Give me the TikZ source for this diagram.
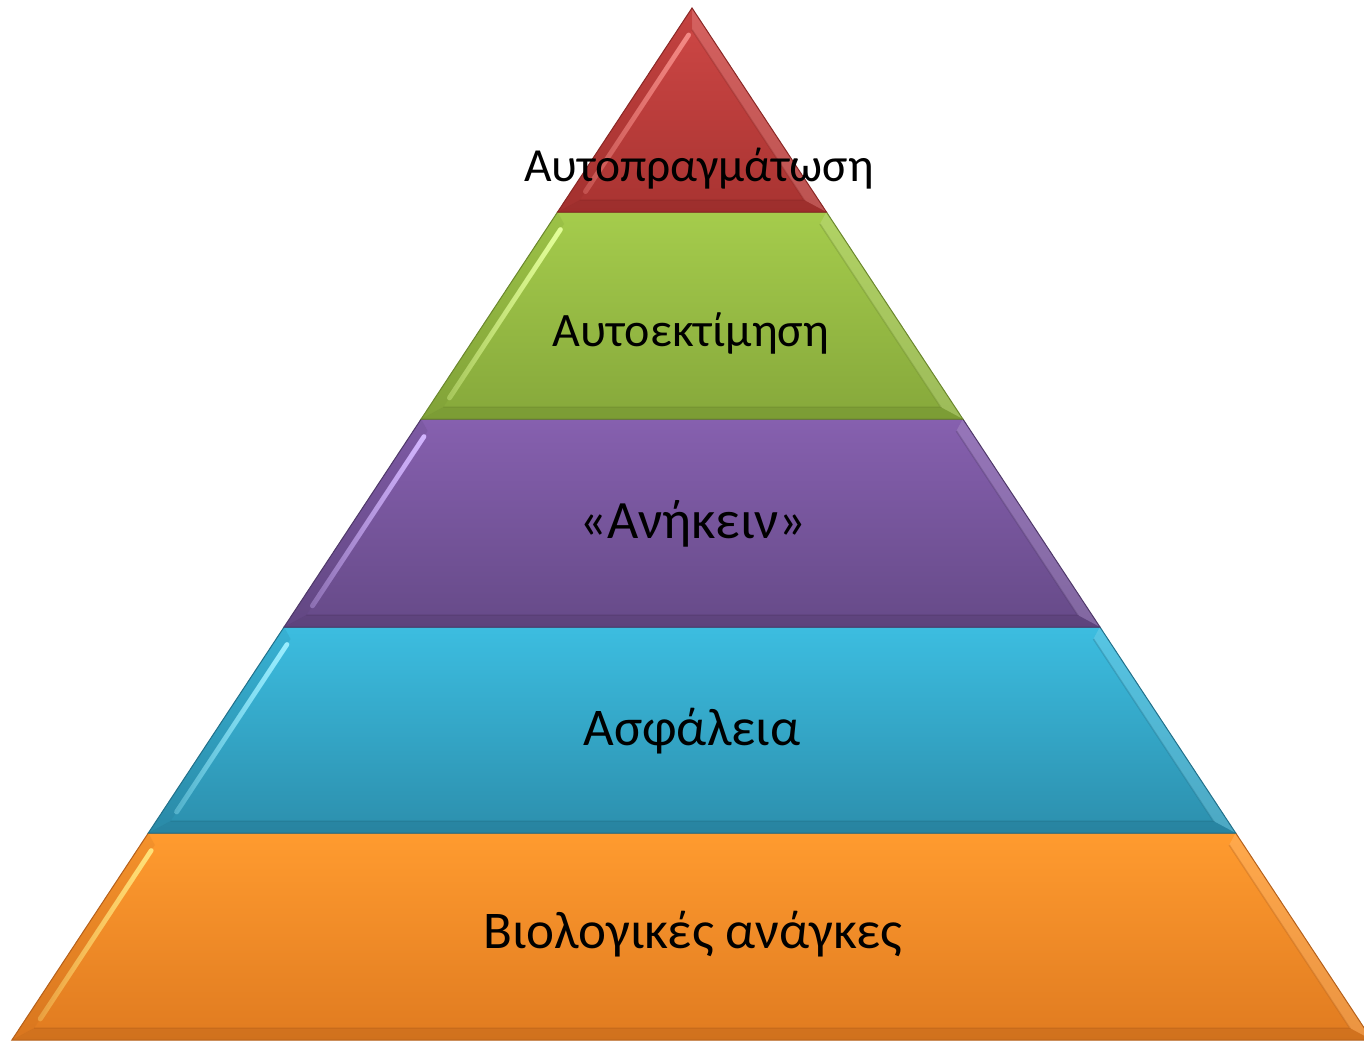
\documentclass[tikz,border=0pt]{standalone}
\usepackage{fontspec}
\setmainfont{Carlito}
\usetikzlibrary{calc,fadings}
\definecolor{redT}{HTML}{CF4846}
\definecolor{redB}{HTML}{A83331}
\definecolor{redH}{HTML}{F48A85}
\definecolor{redD}{HTML}{8A2725}
\definecolor{grnT}{HTML}{A5CC4C}
\definecolor{grnB}{HTML}{86A83B}
\definecolor{grnH}{HTML}{E4FF9A}
\definecolor{grnD}{HTML}{6A872C}
\definecolor{purT}{HTML}{8660AF}
\definecolor{purB}{HTML}{664A88}
\definecolor{purH}{HTML}{D3B6FF}
\definecolor{purD}{HTML}{4F3869}
\definecolor{bluT}{HTML}{3CBDE0}
\definecolor{bluB}{HTML}{2C8FAD}
\definecolor{bluH}{HTML}{9BEEFF}
\definecolor{bluD}{HTML}{21708A}
\definecolor{orgT}{HTML}{FF9B2F}
\definecolor{orgB}{HTML}{E07B20}
\definecolor{orgH}{HTML}{FFE27A}
\definecolor{orgD}{HTML}{B5601A}
\newcommand\pyrlayer[6]{%
  \pgfmathsetmacro\pyT{#1}%
  \pgfmathsetmacro\pyB{#2}%
  \pgfmathsetmacro\pwT{0.659*(\pyT-8)}%
  \pgfmathsetmacro\pwB{0.659*(\pyB-8)}%
  \pgfmathsetmacro\piyT{max(\pyT+12,29.85)}%
  \pgfmathsetmacro\piyB{\pyB-12}%
  \pgfmathsetmacro\piwT{max(0.659*(\piyT-8)-14.4,0)}%
  \pgfmathsetmacro\piwB{0.659*(\piyB-8)-14.4}%
  \coordinate (TL) at (692-\pwT,\pyT);
  \coordinate (TR) at (692+\pwT,\pyT);
  \coordinate (BR) at (692+\pwB,\pyB);
  \coordinate (BL) at (692-\pwB,\pyB);
  \coordinate (iTL) at (692-\piwT,\piyT);
  \coordinate (iTR) at (692+\piwT,\piyT);
  \coordinate (iBR) at (692+\piwB,\piyB);
  \coordinate (iBL) at (692-\piwB,\piyB);
  \shade[top color=#3,bottom color=#4] (TL)--(TR)--(BR)--(BL)--cycle;
  \fill[#3!60!white,opacity=0.35] (TR)--(BR)--(iBR)--(iTR)--cycle;
  \fill[#6,opacity=0.35] (BL)--(BR)--(iBR)--(iBL)--cycle;
  \fill[#6,opacity=0.15] (TL)--(iTL)--(iBL)--(BL)--cycle;
  \draw[#5,line width=5,line cap=round,opacity=0.35]
     ($(iTL)!0.03!(iBL)$) -- ($(iTL)!0.95!(iBL)$);
  \draw[#5,line width=4.5,line cap=round,path fading=south]
     ($(iTL)!0.03!(iBL)$) -- ($(iTL)!0.95!(iBL)$);
  \draw[#6,opacity=0.35,line width=1.5] (iTR)--(iBR)--(iBL);
  \draw[#6,line width=1] (TL)--(TR)--(BR)--(BL)--cycle;
}
\begin{document}
\begin{tikzpicture}[x=1pt,y=-1pt,
  lbl/.style={anchor=base,text=black,inner sep=0pt}]
\useasboundingbox (0,0) rectangle (1364,1041);
\clip (0,0) rectangle (1364,1041);
\pyrlayer{833}{1040}{orgT}{orgB}{orgH}{orgD}
\pyrlayer{627}{833}{bluT}{bluB}{bluH}{bluD}
\pyrlayer{419}{627}{purT}{purB}{purH}{purD}
\pyrlayer{212}{419}{grnT}{grnB}{grnH}{grnD}
\pyrlayer{8}{212}{redT}{redB}{redH}{redD}
\node[lbl,font=\fontsize{47.5}{56}\selectfont] (t1) at (699,181) {Αυτοπραγμάτωση};
\node[lbl,font=\fontsize{48}{56}\selectfont] (t2) at (691,346) {Αυτοεκτίμηση};
\node[lbl,font=\fontsize{54}{62}\selectfont] (t3) at (693,538) {«Ανήκειν»};
\node[lbl,font=\fontsize{53}{62}\selectfont] (t4) at (692,745) {Ασφάλεια};
\node[lbl,font=\fontsize{53}{62}\selectfont] (t5) at (693,948) {Βιολογικές ανάγκες};
\end{tikzpicture}
\end{document}
